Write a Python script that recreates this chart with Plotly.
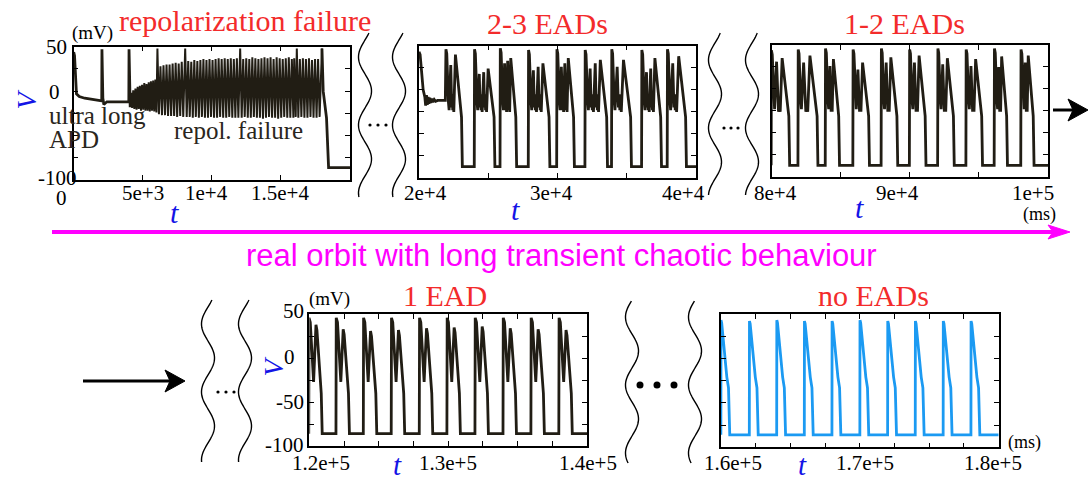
import numpy as np
import plotly.graph_objects as go

W, H = 1088, 483
SERIF = "Liberation Serif, Times New Roman, serif"
SANS = "Liberation Sans, Arial, sans-serif"
TRACE = "#211d14"
BLUE_TRACE = "#1b9af2"
RED = "#f32b2b"
BLUE = "#1414e6"
MAGENTA = "#ff00ff"

# ---------------- data ----------------
# panel 1: 0 - 20000 ms, ultra long APD followed by repolarization failure
P1_T = [0, 60, 200, 400, 800, 1200, 1600, 2030, 2045, 2070, 2110, 2180, 2400, 3000, 3500, 3990, 4005, 4040, 4090]
P1_V = [44, 40, -3, -6, -8, -9, -10, -11, 47, 30, -8, -15, -12, -12, -12, -12, 47, 20, -18]

OSC_A_T = [4150, 4310, 4470, 4630, 4790, 4950, 5110, 5270, 5430, 5590, 5750, 5910]
OSC_A_PEAK = [-2, 1, 3, 5, 6, 7, 9, 8, 10, 11, 12, 13]
OSC_A_TROUGH = [-19, -20, -21, -20, -22, -21, -22, -22, -23, -22, -23, -24]

OSC_B_T = [6060, 6280, 6500, 6720, 6940, 7160, 7380, 7600, 7820,
           8070,
           8290, 8510, 8730, 8950, 9170, 9390, 9610, 9830, 10050, 10270, 10490, 10710, 10930, 11150, 11370, 11590, 11810,
           12050,
           12270, 12490, 12710, 12930, 13150, 13370, 13590, 13810, 14030, 14250, 14470, 14690, 14910, 15130, 15350, 15570, 15790, 15960,
           16150,
           16370, 16590, 16810, 17030, 17250, 17470, 17690,
           17970]
OSC_B_PEAK = [48, 28, 29, 30, 30, 31, 32, 31, 33,
              48,
              34, 33, 35, 34, 35, 36, 35, 36, 35, 36, 37, 36, 37, 36, 37, 36, 37,
              48,
              36, 37, 36, 38, 37, 36, 37, 38, 37, 38, 36, 38, 37, 36, 37, 38, 36, 37,
              48,
              36, 37, 36, 37, 35, 36, 36,
              48]
OSC_B_TROUGH = [-26, -27, -27, -28, -28, -28, -29, -28, -29,
                -29,
                -29, -30, -29, -30, -29, -30, -30, -29, -30, -30, -29, -30, -30, -29, -30, -30, -30,
                -30,
                -29, -30, -30, -29, -30, -30, -31, -30, -29, -30, -30, -31, -30, -29, -30, -30, -30, -29,
                -30,
                -29, -30, -30, -29, -30, -30, -29]
P1_TAIL_T = [17970, 18060, 18300, 18450, 20000]
P1_TAIL_V = [48, 0, -30, -86, -86]

# panel 2: 20000 - 40000 ms, 2-3 EADs
P2_HEAD_T = [20000, 20080, 20300, 20420, 20480, 20540, 20600, 20660, 20720, 20780, 20850, 20920, 21000, 21100, 21200, 21350, 21600, 21900]
P2_HEAD_V = [43, 40, 0, -8, -18, -6, -17, -8, -16, -9, -15, -10, -14, -11, -13, -12, -12, -12]
P2_ONSET = [21925, 23990, 25850, 27890, 29940, 31980, 33900, 36070, 37920]
P2_END = [23130, 25480, 27050, 29450, 31220, 33610, 35340, 37510, 39310]
P2_SPIKE = [46, 46, 47, 45, 46, 45, 46, 45, 46]
P2_EADS = [[28, 40], [18, 20, 24], [30, 33, 36], [22, 26, 30], [26, 30, 36],
           [24, 30, 34], [26, 34], [20, 24, 36], [30, 38]]

# panel 3: 80000 - 100000 ms, 1-2 EADs
P3_ONSET = [79960, 81900, 83875, 85873, 87919, 89965, 92011, 94057, 96103, 98028]
P3_END = [81300, 83346, 84910, 87077, 89123, 91168, 93214, 95260, 97066, 98990]
P3_SPIKE = [44, 45, 46, 45, 46, 45, 46, 45, 46, 45]
P3_EADS = [[31, 35], [30, 38], [26, 34], [22, 30], [30, 36], [30, 38],
           [28, 35], [26, 34], [25, 37], [30, 38]]

# panel 4: 120000 - 140000 ms, 1 EAD
P4_ONSET = [119960, 121920, 123890, 125900, 127920, 129910, 131930, 133950, 135960, 137970]
P4_EAD = [38, 33, 31, 32, 34, 35, 36, 34, 33, 32]

# panel 5: 160000 - 180000 ms, no EADs
P5_ONSET = [159990, 162040, 164010, 166000, 167990, 170000, 172000, 173990, 176000, 178000]
P5_PEAK = [43, 42, 43, 42, 42, 43, 42, 42, 42, 42]

X_RANGES = [(0, 20000), (20000, 40000), (80000, 100000), (120000, 140000), (160000, 180000)]


# ---------------- waveform assembly ----------------
def osc_series(times, peaks, troughs, half):
    t, v = [], []
    for i, (tp, p) in enumerate(zip(times, peaks)):
        t.append(tp); v.append(p)
        if i < len(troughs):
            t.append(tp + half); v.append(troughs[i])
    return t, v


def ead_beat(t0, t_end, spike, peaks, rest, dense):
    pts = [(t0, rest), (t0 + 20, spike), (t0 + 80, spike - 5), (t0 + 200, -14), (t0 + 250, -23)]
    start, stop = t0 + 250, t_end - 280
    s = (stop - start) / len(peaks)
    for i, p in enumerate(peaks):
        ts = start + i * s
        pts.append((ts + 0.35 * s, p))
        if i < len(peaks) - 1:
            if dense:
                pts += [(ts + 0.55 * s, -20), (ts + 0.66 * s, -5), (ts + 0.77 * s, -23),
                        (ts + 0.88 * s, -8), (ts + s, -25)]
            else:
                pts += [(ts + 0.7 * s, -26), (ts + 0.85 * s, -18), (ts + s, -26)]
    pts += [(t_end - 60, -31), (t_end, rest)]
    return pts


def panel1_parts():
    a_t, a_v = osc_series(OSC_A_T, OSC_A_PEAK, OSC_A_TROUGH, 80)
    b_t, b_v = osc_series(OSC_B_T, OSC_B_PEAK, OSC_B_TROUGH, 110)
    head = (list(P1_T), list(P1_V))
    osc = ([P1_T[-1]] + a_t + b_t, [P1_V[-1]] + a_v + b_v)
    tail = (list(P1_TAIL_T), list(P1_TAIL_V))
    return [(head, 2.8), (osc, 2.0), (tail, 2.8)]


def panel2():
    t, v = list(P2_HEAD_T), list(P2_HEAD_V)
    for k, (t0, te, sp, pk) in enumerate(zip(P2_ONSET, P2_END, P2_SPIKE, P2_EADS)):
        pts = ead_beat(t0, te, sp, pk, -87, True)
        if k == 0:
            pts = pts[1:]
        t += [p[0] for p in pts]; v += [p[1] for p in pts]
    t.append(40000); v.append(-87)
    return t, v


def panel3():
    t, v = [], []
    for t0, te, sp, pk in zip(P3_ONSET, P3_END, P3_SPIKE, P3_EADS):
        pts = ead_beat(t0, te, sp, pk, -87, False)
        t += [p[0] for p in pts]; v += [p[1] for p in pts]
    t.append(100000); v.append(-87)
    return t, v


def panel4():
    t, v = [], []
    for t0, e in zip(P4_ONSET, P4_EAD):
        shape = [(0, -86), (20, 46), (110, 41), (350, -27), (520, e), (590, e - 6), (900, -40), (970, -86)]
        t += [t0 + d for d, _ in shape]; v += [val for _, val in shape]
    t.append(140000); v.append(-86)
    return t, v


def panel5():
    t, v = [], []
    for t0, p in zip(P5_ONSET, P5_PEAK):
        shape = [(0, -86), (10, p), (60, p - 3), (430, -21), (550, -33), (640, -86)]
        t += [t0 + d for d, _ in shape]; v += [val for _, val in shape]
    t.append(180000); v.append(-86)
    return t, v


# ---------------- figure ----------------
def px(x):
    return x / W


def py(y):
    return 1 - y / H


DOMAINS = [((73.7, 350), (46.7, 180)),
           ((419, 696), (45.7, 178)),
           ((771.7, 1048), (45, 176.7)),
           ((309.3, 587), (314.3, 446)),
           ((721, 998.7), (314, 447.3))]
X_DTICK = [5000, 5000, 5000, 2500, 2500]

fig = go.Figure()


def add_line(t, v, axis_idx, color, width):
    sfx = "" if axis_idx == 0 else str(axis_idx + 1)
    fig.add_trace(go.Scatter(x=t, y=v, mode="lines", line=dict(color=color, width=width),
                             xaxis="x" + sfx, yaxis="y" + sfx, hoverinfo="skip", showlegend=False))


for (t, v), w in panel1_parts():
    add_line(t, v, 0, TRACE, w)
for idx, ((t, v), c) in enumerate(zip([panel2(), panel3(), panel4(), panel5()],
                                      [TRACE, TRACE, TRACE, BLUE_TRACE]), start=1):
    add_line(t, v, idx, c, 2.8)

layout = dict(width=W, height=H, margin=dict(l=0, r=0, t=0, b=0),
              paper_bgcolor="white", plot_bgcolor="white", showlegend=False)
axis_common = dict(showline=True, linecolor="black", linewidth=1.5, mirror="ticks",
                   ticks="inside", ticklen=5, tickwidth=1, tickcolor="black",
                   showgrid=False, zeroline=False, showticklabels=False, fixedrange=True)
for i, ((dx, dy), rng, dt) in enumerate(zip(DOMAINS, X_RANGES, X_DTICK)):
    sfx = "" if i == 0 else str(i + 1)
    layout["xaxis" + sfx] = dict(domain=[px(dx[0]), px(dx[1])], range=list(rng), anchor="y" + sfx,
                                 tick0=rng[0], dtick=dt, **axis_common)
    layout["yaxis" + sfx] = dict(domain=[py(dy[1]), py(dy[0])], range=[-100, 50], anchor="x" + sfx,
                                 tick0=-100, dtick=25, **axis_common)
fig.update_layout(**layout)


def ann(text, x, y, size, color="black", family=SERIF, xanchor="center", angle=0, yanchor="middle"):
    fig.add_annotation(text=text, x=px(x), y=py(y), xref="paper", yref="paper",
                       xanchor=xanchor, yanchor=yanchor, showarrow=False, textangle=angle,
                       font=dict(family=family, size=size, color=color))


# titles
ann("repolarization failure", 245, 21, 30, RED)
ann("2-3 EADs", 547, 23, 30, RED)
ann("1-2 EADs", 904, 23, 30, RED)
ann("1 EAD", 445, 295, 30, RED)
ann("no EADs", 873, 295, 30, RED)

# tick labels
TICK = 21
for txt, x, y in [("50", 56.5, 46.7), ("0", 54, 91.7), ("-100", 57.5, 178),
                  ("0", 61, 198), ("5e+3", 142.5, 193), ("1e+4", 206.7, 193), ("1.5e+4", 280, 193),
                  ("2e+4", 425, 192.5), ("3e+4", 551.5, 192.5), ("4e+4", 683, 192.5),
                  ("8e+4", 775, 192.5), ("9e+4", 897, 192.5), ("1e+5", 1033, 192.5),
                  ("50", 293.5, 311), ("0", 289, 357), ("-50", 290, 402), ("-100", 284, 445),
                  ("1.2e+5", 321, 463), ("1.3e+5", 448, 463), ("1.4e+5", 588, 463),
                  ("1.6e+5", 733, 463), ("1.7e+5", 865, 463), ("1.8e+5", 993, 463)]:
    ann(txt, x, y, TICK)

# units
ann("(mV)", 92.5, 33, 19)
ann("(mV)", 329, 299, 19)
ann("(ms)", 1039, 214, 18)
ann("(ms)", 1024, 442, 18)

# axis names
for x, y in [(174, 212), (515, 209), (859, 207)]:
    ann("<i>t</i>", x, y, 30, BLUE)
for x in (397, 802):
    ann("<i>t</i>", x, 483, 29, BLUE, yanchor="bottom")
for x, y in [(26.5, 100), (272.5, 367)]:
    ann("<i>V</i>", x, y, 28, BLUE, angle=-90)

# annotations inside panel 1
ann("ultra long", 47, 116, 25, "#2a2620", xanchor="left")
ann("APD", 47, 140, 25, "#2a2620", xanchor="left")
ann("repol. failure", 238, 130, 25, "#2a2620")

# long transient arrow and caption
ann("real orbit with long transient chaotic behaviour", 561, 255, 31, MAGENTA, family=SANS)

shapes = []


def arrow(x0, x1, y, color, width, head_len, head_half, notch):
    shapes.append(dict(type="line", xref="paper", yref="paper", x0=px(x0), x1=px(x1 - notch), y0=py(y), y1=py(y),
                       line=dict(color=color, width=width)))
    path = (f"M {px(x1)},{py(y)} L {px(x1 - head_len)},{py(y - head_half)} "
            f"L {px(x1 - head_len + notch)},{py(y)} L {px(x1 - head_len)},{py(y + head_half)} Z")
    shapes.append(dict(type="path", xref="paper", yref="paper", path=path,
                       fillcolor=color, line=dict(color=color, width=1)))


arrow(52, 1070, 232, MAGENTA, 4, 22, 7, 5)
arrow(1053, 1088, 110, "black", 3, 20, 11, 5)
arrow(83, 185, 381, "black", 3, 20, 11, 5)


def wave(xc, y0, y1, left_at, amp=6.5, period=68):
    ys = np.linspace(y0, y1, 160)
    xs = xc - amp * np.cos(2 * np.pi * (ys - left_at) / period)
    path = "M " + " L ".join(f"{px(x):.5f},{py(y):.5f}" for x, y in zip(xs, ys))
    shapes.append(dict(type="path", xref="paper", yref="paper", path=path,
                       line=dict(color="black", width=1.4)))


def dots(xs, y, r):
    for x in xs:
        shapes.append(dict(type="circle", xref="paper", yref="paper",
                           x0=px(x - r), x1=px(x + r), y0=py(y + r), y1=py(y - r),
                           fillcolor="black", line=dict(color="black", width=0)))


wave(365, 33, 197, 125)
wave(399, 33, 197, 125)
dots([370, 378, 386], 125, 1.6)
wave(715, 33, 195, 128)
wave(752, 33, 195, 128)
dots([724, 731, 738], 128, 1.6)
wave(208, 300, 462, 392)
wave(245, 300, 462, 392)
dots([218, 226, 234], 392, 1.6)
wave(632, 301, 463, 385)
wave(695, 301, 463, 385)
dots([640, 657, 674], 385, 3.5)

fig.update_layout(shapes=shapes)
fig.write_html("out.html")
